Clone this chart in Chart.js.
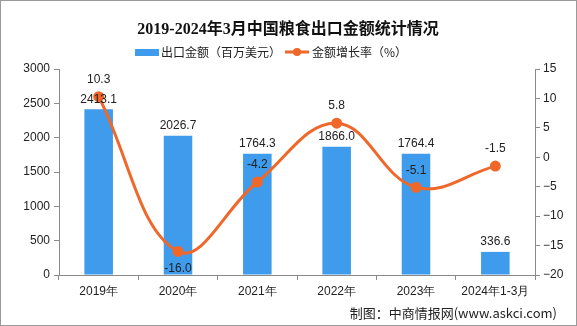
<!DOCTYPE html>
<html>
<head>
<meta charset="utf-8">
<script src="https://cdn.jsdelivr.net/npm/chart.js@4.4.1/dist/chart.umd.min.js"></script>
<style>
  html, body { margin: 0; padding: 0; background: #fff; }
  #wrap { width: 577px; height: 326px; position: relative; }
</style>
</head>
<body>
<div id="wrap"><canvas id="c"></canvas></div>
<script>
// datos del grafico
const years = ['2019年', '2020年', '2021年', '2022年', '2023年', '2024年1-3月'];
const exportValue = [2413.1, 2026.7, 1764.3, 1866.0, 1764.4, 336.6];
const growthRate = [10.3, -16.0, -4.2, 5.8, -5.1, -1.5];
// posicion de la etiqueta de la linea: -1 arriba, 1 abajo
const rateLabelSide = [-1, 1, -1, -1, -1, -1];

const titleText = '2019-2024年3月中国粮食出口金额统计情况';
const barName = '出口金额（百万美元）';
const lineName = '金额增长率（%）';
const sourceText = '制图：中商情报网(www.askci.com)';

const barColor = '#3F9BEB';
const lineColor = '#F0672A';
const textColor = '#222';
const axisColor = '#8a8a8a';
const cjk = '"Noto Sans CJK SC", "Liberation Sans", sans-serif';

// dibuja titulo, leyenda, etiquetas y pie
const decor = {
  id: 'decor',
  afterDraw(chart) {
    const c = chart.ctx;
    c.save();

    // titulo
    c.fillStyle = '#111';
    c.textAlign = 'center';
    c.textBaseline = 'middle';
    c.font = 'bold 16px "Liberation Serif", "Noto Sans CJK SC", serif';
    c.fillText(titleText, 288, 30);

    // leyenda
    c.font = '12px ' + cjk;
    c.textAlign = 'left';
    c.fillStyle = barColor;
    c.fillRect(135, 49, 24, 7);
    c.fillStyle = textColor;
    c.fillText(barName, 161, 52);
    let x = 161 + c.measureText(barName).width + 4;
    c.strokeStyle = lineColor;
    c.lineWidth = 3;
    c.beginPath();
    c.moveTo(x, 52);
    c.lineTo(x + 24, 52);
    c.stroke();
    c.fillStyle = lineColor;
    c.beginPath();
    c.arc(x + 12, 52, 4, 0, Math.PI * 2);
    c.fill();
    c.fillStyle = textColor;
    c.fillText(lineName, x + 27, 52);

    // etiquetas de valores
    c.font = '12px "Liberation Sans", sans-serif';
    c.textAlign = 'center';
    c.fillStyle = textColor;
    chart.getDatasetMeta(1).data.forEach((bar, i) => {
      c.fillText(exportValue[i].toFixed(1), bar.x, bar.y - 10);
    });
    chart.getDatasetMeta(0).data.forEach((pt, i) => {
      c.fillText(growthRate[i].toFixed(1), pt.x, pt.y + rateLabelSide[i] * 17);
    });

    // pie
    c.font = '13px ' + cjk;
    c.textAlign = 'right';
    c.fillStyle = '#222';
    c.fillText(sourceText, 557, 313);

    // borde
    c.strokeStyle = '#9a9a9a';
    c.lineWidth = 1;
    c.strokeRect(0.5, 0.5, 576, 325);
    c.restore();
  }
};

const tickFont = { family: '"Liberation Sans", sans-serif', size: 12 };

const ctx = document.getElementById('c');
new Chart(ctx, {
  data: {
    labels: years,
    datasets: [{
      type: 'line',
      label: lineName,
      data: growthRate,
      yAxisID: 'y1',
      borderColor: lineColor,
      backgroundColor: lineColor,
      borderWidth: 3,
      pointRadius: 4,
      pointHoverRadius: 4,
      tension: 0.4,
      order: 0
    }, {
      type: 'bar',
      label: barName,
      data: exportValue,
      yAxisID: 'y',
      backgroundColor: barColor,
      categoryPercentage: 1,
      barPercentage: 0.36,
      order: 1
    }]
  },
  options: {
    responsive: true,
    maintainAspectRatio: false,
    animation: false,
    layout: { padding: { top: 69, left: 0, right: 0, bottom: 0 } },
    plugins: {
      legend: { display: false },
      title: { display: false },
      tooltip: { enabled: false }
    },
    scales: {
      x: {
        offset: true,
        grid: { offset: true, drawOnChartArea: false, drawTicks: true, tickLength: 5, color: axisColor },
        border: { color: axisColor },
        ticks: { color: textColor, font: tickFont, padding: 4 },
        afterFit(s) { s.height = 51; }
      },
      y: {
        position: 'left',
        min: 0,
        max: 3000,
        grid: { drawOnChartArea: false, drawTicks: true, tickLength: 5, color: axisColor },
        border: { color: axisColor },
        ticks: { stepSize: 500, color: textColor, font: tickFont, padding: 4, callback: v => String(v) },
        afterFit(s) { s.width = 59; }
      },
      y1: {
        position: 'right',
        min: -20,
        max: 15,
        grid: { drawOnChartArea: false, drawTicks: true, tickLength: 5, color: axisColor },
        border: { color: axisColor },
        ticks: {
          stepSize: 5,
          color: textColor,
          font: tickFont,
          padding: 3,
          callback: v => v < 0 ? '\u2212' + Math.abs(v) : String(v)
        },
        afterFit(s) { s.width = 42; }
      }
    }
  },
  plugins: [decor]
});
</script>
</body>
</html>
